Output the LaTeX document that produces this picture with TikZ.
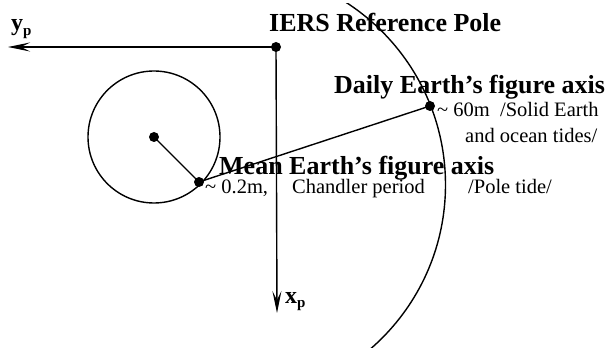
\documentclass[tikz,border=0pt]{standalone}
\usepackage{fontspec}
\setmainfont{Liberation Serif}
\usetikzlibrary{arrows.meta}
\tikzset{
  ln/.style={line width=1.4pt},
  ax/.style={line width=1.4pt,-{Stealth[length=22pt,width=9pt,inset=9pt]}},
  dot/.style={circle,fill=black,inner sep=0pt,minimum size=10pt},
  big/.style={font=\fontsize{26}{28}\selectfont\bfseries,inner sep=0pt,anchor=base west},
  small/.style={font=\fontsize{20.5}{22}\selectfont,inner sep=0pt,anchor=base west},
  axlab/.style={font=\fontsize{24}{26}\selectfont\bfseries,inner sep=0pt,anchor=base west}
}
\begin{document}
\begin{tikzpicture}[x=1pt,y=-1pt]
\useasboundingbox (0,0) rectangle (611,352);
% points
\node[dot] (pole) at (276,47) {};
\coordinate (yend) at (8,47);
\coordinate (xend) at (277,313);
\node[dot] (cen) at (154,137) {};
\node[dot] (mean) at (199,182) {};
\node[dot] (daily) at (430,106) {};
% axes
\draw[ax] (pole.center) -- (yend);
\draw[ax] (pole.center) -- (xend);
% small circle
\draw[ln] (cen.center) circle[radius=66pt];
% big arc
\begin{scope}
\clip (300,4) rectangle (611,348);
\draw[ln] (228.5,184.8) circle[radius=217pt];
\end{scope}
% connectors
\draw[ln] (cen.center) -- (mean.center);
\draw[ln] (mean.center) -- (daily.center);
% labels
\node[axlab] (ylab) at (11,31) {y\raisebox{-5pt}{\fontsize{15}{15}\selectfont p}};
\node[axlab] (xlab) at (285,304) {x\raisebox{-4pt}{\fontsize{15}{15}\selectfont p}};
\node[big] (iers) at (269,31.5) {IERS Reference Pole};
\node[big] (dailyt) at (334,94) {Daily Earth’s figure axis};
\node[small] (d1) at (437,117) {\char"7E\ 60m\ \ /Solid Earth};
\node[small] (d2) at (465,142.5) {and ocean tides/};
\node[big] (meant) at (219,174.5) {Mean Earth’s figure axis};
\node[small] (m1) at (205,194) {\char"7E\ 0.2m,};
\node[small] (m2) at (292,194) {Chandler period};
\node[small] (m3) at (468,194) {/Pole tide/};
\end{tikzpicture}
\end{document}
